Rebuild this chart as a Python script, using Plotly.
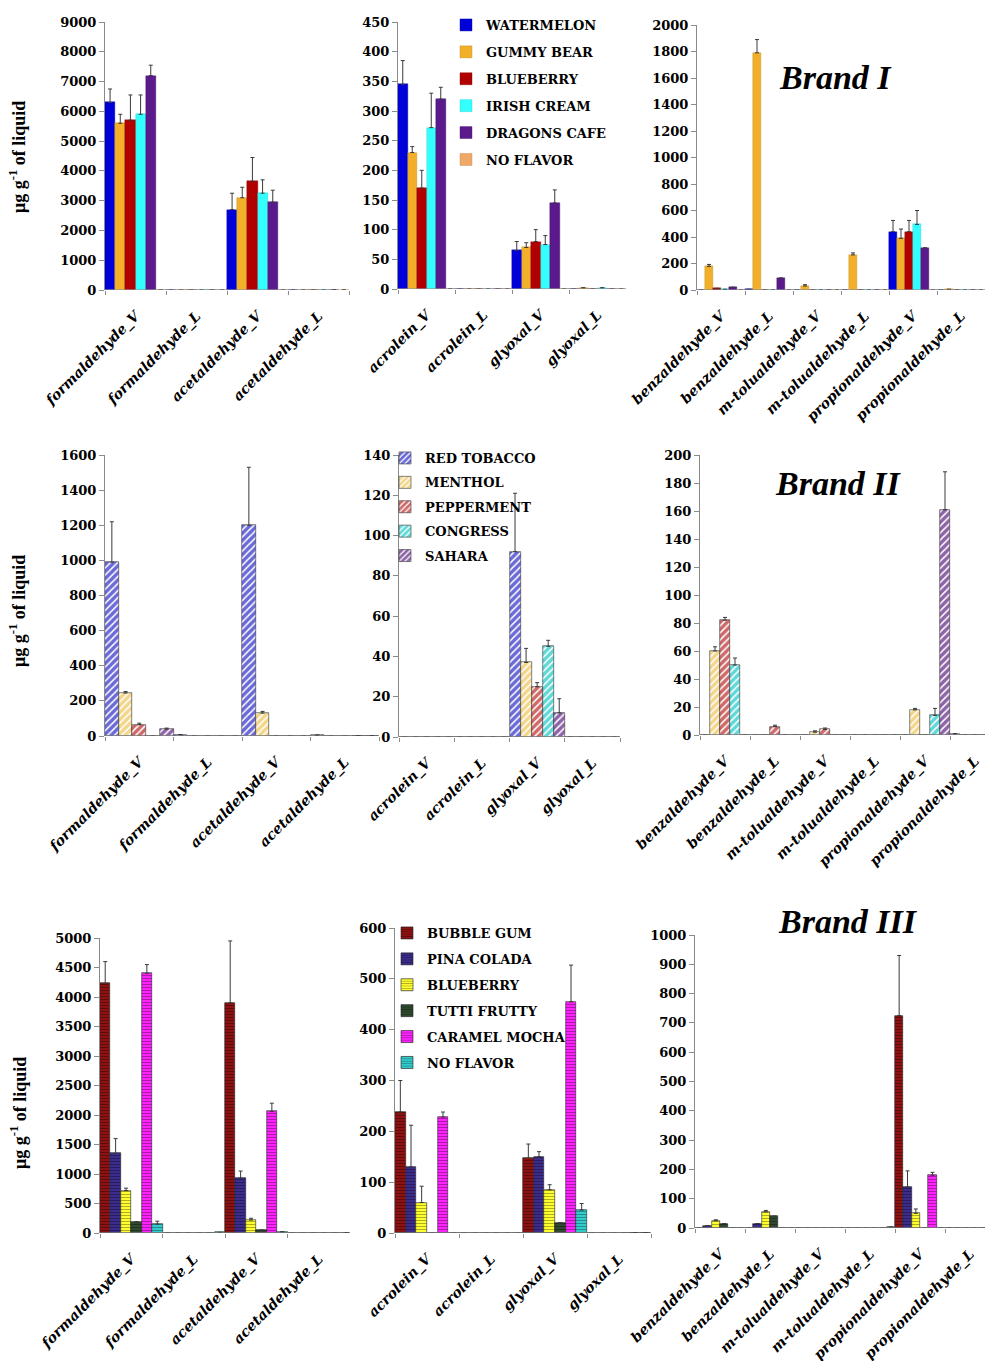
import plotly.graph_objects as go

W, H = 985, 1361

# ---------------- categories ----------------
cats_aldehyde = ["formaldehyde_V", "formaldehyde_L", "acetaldehyde_V", "acetaldehyde_L"]
cats_acrolein = ["acrolein_V", "acrolein_L", "glyoxal_V", "glyoxal_L"]
cats_aromatic = ["benzaldehyde_V", "benzaldehyde_L", "m-tolualdehyde_V",
                 "m-tolualdehyde_L", "propionaldehyde_V", "propionaldehyde_L"]

# ---------------- Brand I ----------------
brand1_flavors = ["WATERMELON", "GUMMY BEAR", "BLUEBERRY", "IRISH CREAM", "DRAGONS CAFE", "NO FLAVOR"]
brand1_colors = ["#0000d8", "#f2b02a", "#b00000", "#33ffff", "#5a1a8c", "#f0a868"]

b1_aldehyde_mean = [[6300, 0, 2700, 0], [5600, 0, 3100, 0], [5700, 0, 3650, 0],
                    [5900, 0, 3250, 0], [7200, 0, 2950, 0], [0, 0, 0, 0]]
b1_aldehyde_err = [[450, 0, 550, 0], [300, 0, 350, 0], [850, 0, 800, 0],
                   [650, 0, 450, 0], [350, 0, 400, 0], [0, 0, 0, 0]]

b1_acrolein_mean = [[345, 0, 65, 0], [230, 0, 70, 2], [170, 0, 80, 0],
                    [272, 0, 75, 2], [320, 0, 145, 0], [0, 0, 0, 0]]
b1_acrolein_err = [[40, 0, 15, 0], [10, 0, 8, 0], [30, 0, 20, 0],
                   [58, 0, 15, 0], [20, 0, 22, 0], [0, 0, 0, 0]]

b1_aromatic_mean = [[0, 5, 0, 0, 440, 0], [178, 1790, 30, 265, 390, 5], [12, 0, 0, 0, 440, 0],
                    [5, 0, 0, 0, 495, 0], [20, 90, 0, 0, 318, 0], [0, 0, 0, 0, 0, 0]]
b1_aromatic_err = [[0, 0, 0, 0, 85, 0], [15, 100, 10, 15, 70, 0], [0, 0, 0, 0, 85, 0],
                   [0, 0, 0, 0, 105, 0], [0, 0, 0, 0, 0, 0], [0, 0, 0, 0, 0, 0]]

# ---------------- Brand II ----------------
brand2_flavors = ["RED TOBACCO", "MENTHOL", "PEPPERMENT", "CONGRESS", "SAHARA"]
brand2_colors = ["#6a6ad8", "#f3d68a", "#d06a6a", "#5fd8d8", "#8e64a8"]

b2_aldehyde_mean = [[990, 8, 1200, 5], [245, 0, 130, 0], [65, 0, 0, 0],
                    [0, 0, 0, 0], [40, 0, 0, 0]]
b2_aldehyde_err = [[230, 0, 330, 0], [8, 0, 10, 0], [8, 0, 0, 0],
                   [0, 0, 0, 0], [5, 0, 0, 0]]

b2_acrolein_mean = [[0, 0, 92, 0], [0, 0, 37, 0], [0, 0, 25, 0],
                    [0, 0, 45, 0], [0, 0, 12, 0]]
b2_acrolein_err = [[0, 0, 29, 0], [0, 0, 7, 0], [0, 0, 2, 0],
                   [0, 0, 3, 0], [0, 0, 7, 0]]

b2_aromatic_mean = [[0, 0, 0, 0, 0, 1], [60, 0, 2, 0, 18, 0], [82, 6, 4, 0, 0, 0],
                    [50, 0, 0, 0, 14, 0], [0, 0, 0, 0, 161, 0]]
b2_aromatic_err = [[0, 0, 0, 0, 0, 0], [3, 0, 1, 0, 1, 0], [2, 1, 1, 0, 0, 0],
                   [5, 0, 0, 0, 5, 0], [0, 0, 0, 0, 27, 0]]

# ---------------- Brand III ----------------
brand3_flavors = ["BUBBLE GUM", "PINA COLADA", "BLUEBERRY", "TUTTI FRUTTY", "CARAMEL MOCHA", "NO FLAVOR"]
brand3_colors = ["#8e1212", "#3c2c8c", "#ffff30", "#2f4a2f", "#ff22ff", "#33cccc"]

b3_aldehyde_mean = [[4230, 0, 3900, 0], [1350, 0, 930, 0], [720, 0, 220, 0],
                    [190, 0, 50, 0], [4400, 0, 2060, 0], [150, 10, 20, 0]]
b3_aldehyde_err = [[370, 0, 1050, 0], [250, 0, 120, 0], [40, 0, 30, 0],
                   [0, 0, 0, 0], [150, 0, 140, 0], [50, 0, 0, 0]]

b3_acrolein_mean = [[238, 0, 147, 0], [130, 0, 150, 0], [60, 0, 85, 0],
                    [0, 0, 20, 0], [228, 0, 455, 0], [0, 0, 45, 0]]
b3_acrolein_err = [[62, 0, 28, 0], [82, 0, 10, 0], [32, 0, 10, 0],
                   [0, 0, 0, 0], [10, 0, 72, 0], [0, 0, 13, 0]]

b3_aromatic_mean = [[0, 0, 0, 0, 725, 0], [8, 15, 0, 0, 140, 0], [25, 55, 0, 0, 50, 0],
                    [15, 40, 0, 0, 0, 0], [0, 0, 0, 0, 180, 0], [0, 0, 0, 3, 0, 0]]
b3_aromatic_err = [[0, 0, 0, 0, 205, 0], [0, 0, 0, 0, 55, 0], [3, 5, 0, 0, 15, 0],
                   [0, 0, 0, 0, 0, 0], [0, 0, 0, 0, 10, 0], [0, 0, 0, 0, 0, 0]]

brand_titles = ["Brand I", "Brand II", "Brand III"]
y_title = "μg g<sup>-1</sup> of liquid"

SERIF = "Liberation Serif"
WIDE_SERIF = "DejaVu Serif"
AXIS_GRAY = "#8a8a8a"

brands = [
    dict(flavors=brand1_flavors, colors=brand1_colors, style="solid", legend="legend"),
    dict(flavors=brand2_flavors, colors=brand2_colors, style="hatch", legend="legend2"),
    dict(flavors=brand3_flavors, colors=brand3_colors, style="lines", legend="legend3"),
]

# panel: brand index, categories, means, errors, y max, y step,
# pixel box (left, axis end, top, bottom), category width in px
panels = [
    (0, cats_aldehyde, b1_aldehyde_mean, b1_aldehyde_err, 9000, 1000, (105, 330, 22, 290), 61),
    (0, cats_acrolein, b1_acrolein_mean, b1_acrolein_err, 450, 50, (398, 626, 22, 289), 57),
    (0, cats_aromatic, b1_aromatic_mean, b1_aromatic_err, 2000, 200, (697, 985, 25, 290), 48),
    (1, cats_aldehyde, b2_aldehyde_mean, b2_aldehyde_err, 1600, 200, (105, 352, 455, 736), 68.5),
    (1, cats_acrolein, b2_acrolein_mean, b2_acrolein_err, 140, 20, (399, 620, 455, 737), 55.25),
    (1, cats_aromatic, b2_aromatic_mean, b2_aromatic_err, 200, 20, (700, 985, 455, 735), 50),
    (2, cats_aldehyde, b3_aldehyde_mean, b3_aldehyde_err, 5000, 500, (100, 345, 938, 1233), 62.5),
    (2, cats_acrolein, b3_acrolein_mean, b3_acrolein_err, 600, 100, (395, 628, 928, 1233), 64),
    (2, cats_aromatic, b3_aromatic_mean, b3_aromatic_err, 1000, 100, (695, 985, 935, 1228), 50),
]


def darker(hex_color, f=0.65):
    h = hex_color.lstrip("#")
    r, g, b = (int(h[i:i + 2], 16) for i in (0, 2, 4))
    return "#%02x%02x%02x" % (int(r * f), int(g * f), int(b * f))


def bar_marker(color, style):
    if style == "hatch":
        return dict(color=color, line=dict(color="#333333", width=0.6),
                    pattern=dict(shape="/", bgcolor=color, fgcolor="white",
                                 size=5, solidity=0.3, fillmode="replace"))
    if style == "lines":
        return dict(color=color, line=dict(color="#222222", width=0.6),
                    pattern=dict(shape="-", bgcolor=color, fgcolor=darker(color),
                                 size=3, solidity=0.3, fillmode="replace"))
    return dict(color=color, line=dict(color=darker(color, 0.8), width=0.4))


fig = go.Figure()
layout = {}
shapes = []
axis_font = dict(family=WIDE_SERIF, size=13, color="black", weight="bold")
cat_font = dict(family=WIDE_SERIF, size=14, color="black", weight="bold", style="italic")

for k, (bi, cats, means, errs, ymax, step, box, cw) in enumerate(panels, start=1):
    brand = brands[bi]
    left, axis_end, top, bottom = box
    # the category scale spans every category when it fits on the page
    right = min(left + len(cats) * cw, W)
    show_leg = (k % 3 == 2)
    sfx = "" if k == 1 else str(k)
    for i, flavor in enumerate(brand["flavors"]):
        fig.add_trace(go.Bar(
            x=cats, y=means[i], name=flavor,
            xaxis="x" + sfx, yaxis="y" + sfx,
            marker=bar_marker(brand["colors"][i], brand["style"]),
            error_y=dict(type="data", symmetric=False, array=errs[i],
                         arrayminus=[0] * len(cats), color="#3a3a3a",
                         thickness=1, width=2),
            legend=brand["legend"], legendgroup="%d_%s" % (bi, flavor),
            showlegend=show_leg,
        ))
    layout["xaxis" + sfx] = dict(
        domain=[left / W, right / W], anchor="y" + sfx, type="category",
        categoryorder="array", categoryarray=cats,
        range=[-0.5, -0.5 + (right - left) / cw],
        showline=False, automargin=False,
        ticks="outside", tickson="boundaries", ticklen=4, tickcolor=AXIS_GRAY,
        tickangle=-45, tickfont=cat_font, ticklabelstandoff=14,
        showgrid=False, zeroline=False, fixedrange=True,
    )
    layout["yaxis" + sfx] = dict(
        domain=[1 - bottom / H, 1 - top / H], anchor="x" + sfx,
        range=[0, ymax], dtick=step, tick0=0, automargin=False,
        showline=True, linecolor=AXIS_GRAY, linewidth=1,
        ticks="outside", ticklen=5, tickcolor=AXIS_GRAY,
        tickfont=axis_font, showgrid=False, zeroline=False, fixedrange=True,
    )
    # category axis line, ending where the panel's axis stops
    shapes.append(dict(type="line", xref="x%s domain" % sfx, yref="y" + sfx,
                       x0=0, x1=(axis_end - left) / (right - left), y0=0, y1=0,
                       line=dict(color=AXIS_GRAY, width=1.2)))

legend_common = dict(font=dict(family=WIDE_SERIF, size=13, color="black", weight="bold"),
                     bgcolor="rgba(0,0,0,0)", xanchor="left", yanchor="top",
                     itemwidth=30, traceorder="grouped")
layout["legend"] = dict(legend_common, x=446 / W, y=1 - 10 / H, tracegroupgap=7)
layout["legend2"] = dict(legend_common, x=385 / W, y=1 - 443 / H, tracegroupgap=4.5)
layout["legend3"] = dict(legend_common, x=387 / W, y=1 - 918 / H, tracegroupgap=6)

annotations = []
for title, (cx, cy) in zip(brand_titles, [(835, 78), (838, 483), (848, 922)]):
    annotations.append(dict(text=title, x=cx / W, y=1 - cy / H, xref="paper", yref="paper",
                            showarrow=False, xanchor="center", yanchor="middle",
                            font=dict(family=SERIF, size=34, color="black",
                                      weight="bold", style="italic")))
for cy in (157, 611, 1113):
    annotations.append(dict(text=y_title, x=18 / W, y=1 - cy / H, xref="paper", yref="paper",
                            showarrow=False, textangle=-90, xanchor="center", yanchor="middle",
                            font=dict(family=SERIF, size=18, color="black", weight="bold")))

fig.update_layout(
    width=W, height=H, margin=dict(l=0, r=0, t=0, b=0, autoexpand=False),
    paper_bgcolor="white", plot_bgcolor="white",
    barmode="group", bargap=0, bargroupgap=0,
    annotations=annotations, shapes=shapes, **layout,
)

fig.write_html("out.html")
